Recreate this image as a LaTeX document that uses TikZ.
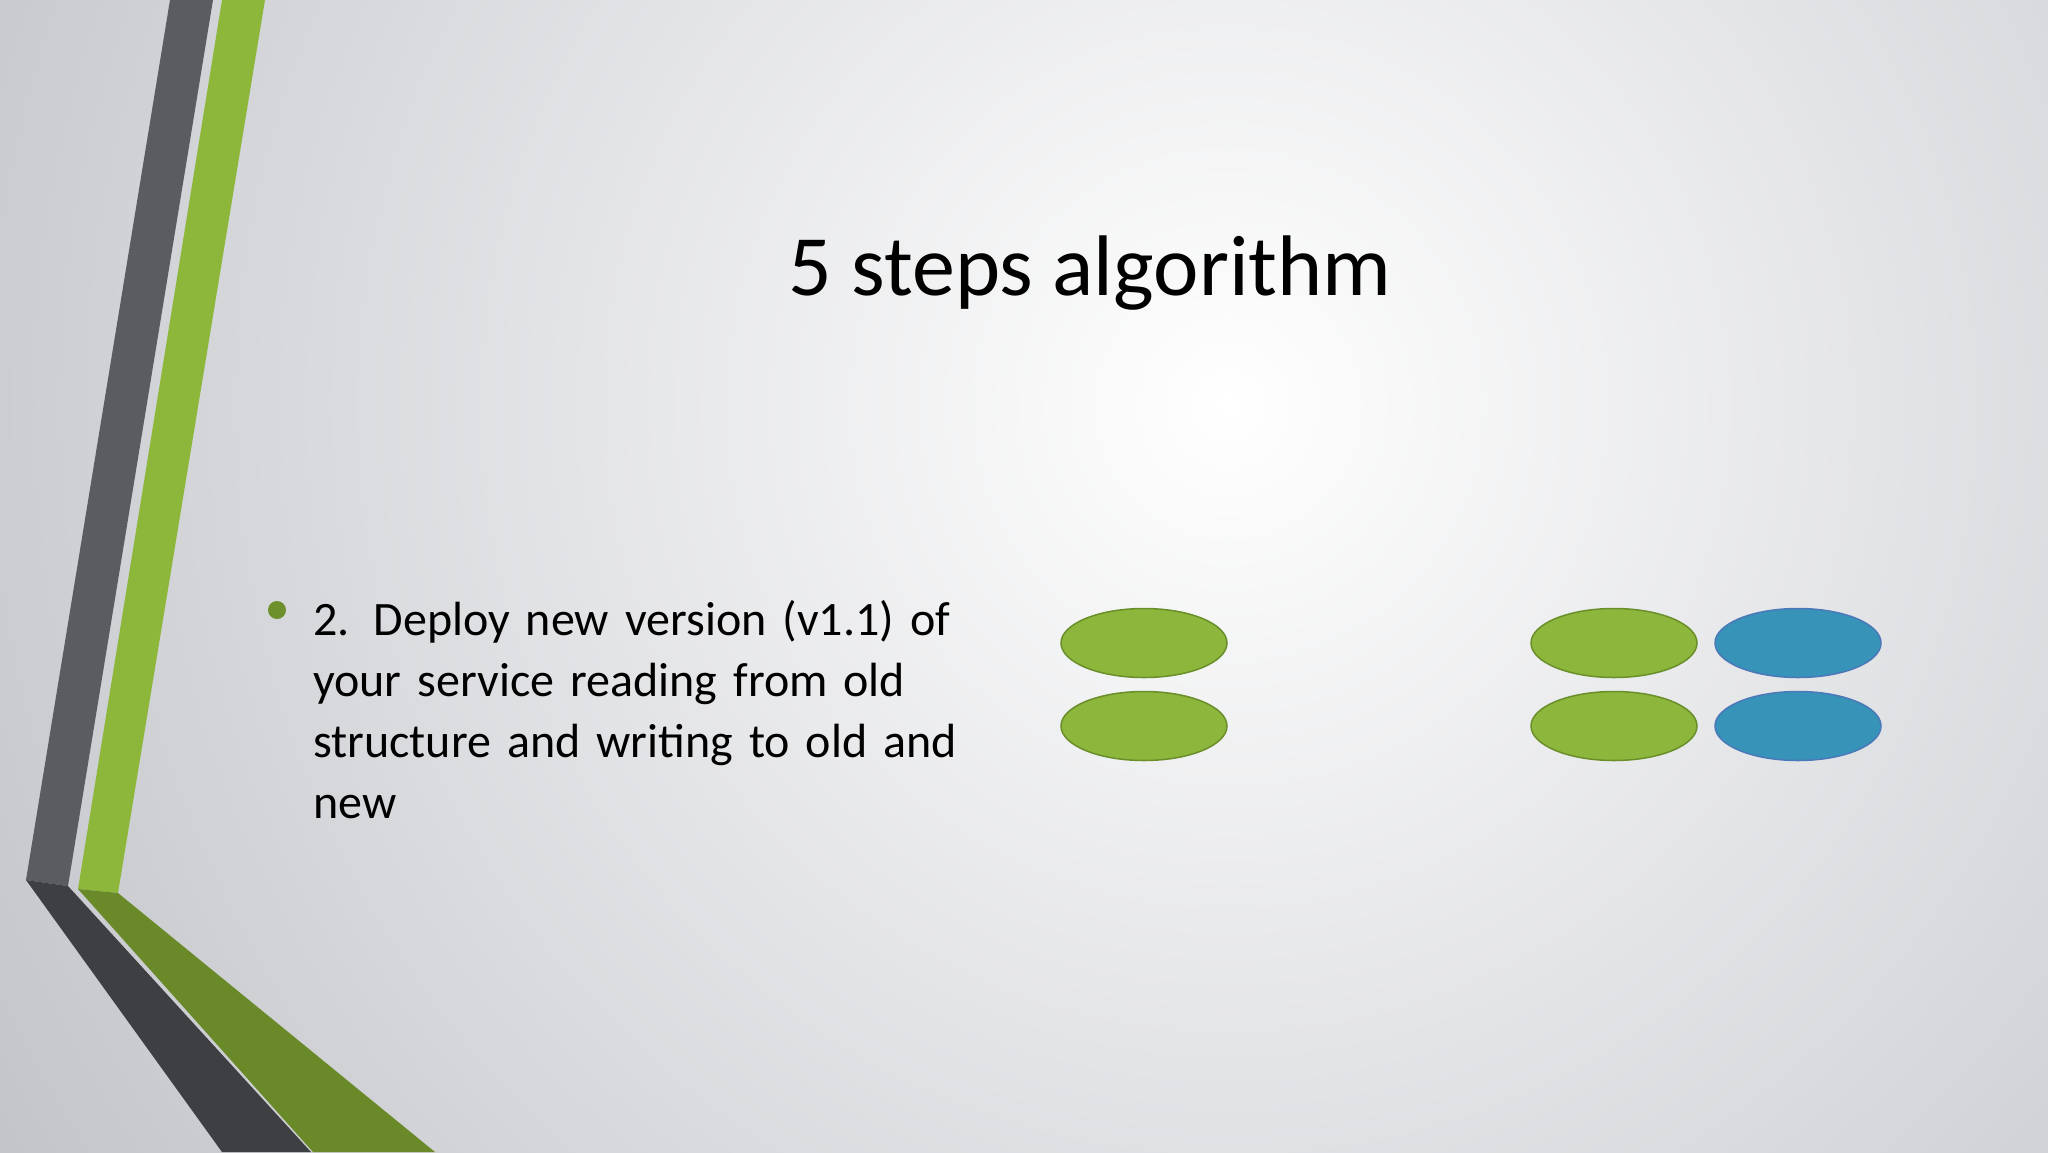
\documentclass[tikz,border=0pt]{standalone}
\usepackage{fontspec}
\usetikzlibrary{shapes.geometric}
\setmainfont{Carlito}
\definecolor{gband}{HTML}{5A5C5F}
\definecolor{gbandd}{HTML}{3D3F42}
\definecolor{lgreen}{HTML}{8DB73A}
\definecolor{dgreen}{HTML}{6A8A2A}
\definecolor{egreen}{HTML}{8DB63C}
\definecolor{egreenb}{HTML}{6A8F2A}
\definecolor{eblue}{HTML}{3893B8}
\definecolor{eblueb}{HTML}{4A78B8}
\definecolor{bgout}{HTML}{C2C4C9}
\begin{document}
\begin{tikzpicture}[x=1pt,y=-1pt,
  gell/.style={ellipse,draw=egreenb,fill=egreen,line width=1.5pt,minimum width=166pt,minimum height=69pt,inner sep=0pt},
  bell/.style={ellipse,draw=eblueb,fill=eblue,line width=1.5pt,minimum width=166pt,minimum height=69pt,inner sep=0pt}]
\useasboundingbox (0,0) rectangle (2048,1152);
\begin{scope}
\clip (0,0) rectangle (2048,1152);
\fill[bgout] (0,0) rectangle (2048,1152);
\shade[inner color=white, outer color=bgout] (1228,405) circle (1450);
% bands
\fill[gband] (170,0) -- (213,0) -- (68,886) -- (26,880) -- cycle;
\fill[lgreen] (222,0) -- (265,0) -- (118,893) -- (78,889) -- cycle;
\fill[gbandd] (26,880) -- (68,886) -- (311,1152) -- (222,1152) -- cycle;
\fill[dgreen] (78,889) -- (118,893) -- (435,1152) -- (313,1152) -- cycle;
\end{scope}
\node[font=\fontsize{86}{96}\selectfont] (title) at (1090,273) {5 steps algorithm};
\fill[dgreen!90!lgreen] (277,610) circle (9) coordinate (bul);
\node[anchor=north west,align=left,font=\fontsize{48}{61}\selectfont,text width=760pt,inner sep=0pt] (txt) at (313,600)
 {2. Deploy new version (v1.1) of\\your service reading from old\\structure and writing to old and\\new};
\node[gell] (a1) at (1144,643) {};
\node[gell] (a2) at (1144,726) {};
\node[gell] (b1) at (1614,643) {};
\node[gell] (b2) at (1614,726) {};
\node[bell] (c1) at (1798,643) {};
\node[bell] (c2) at (1798,726) {};
\end{tikzpicture}
\end{document}
